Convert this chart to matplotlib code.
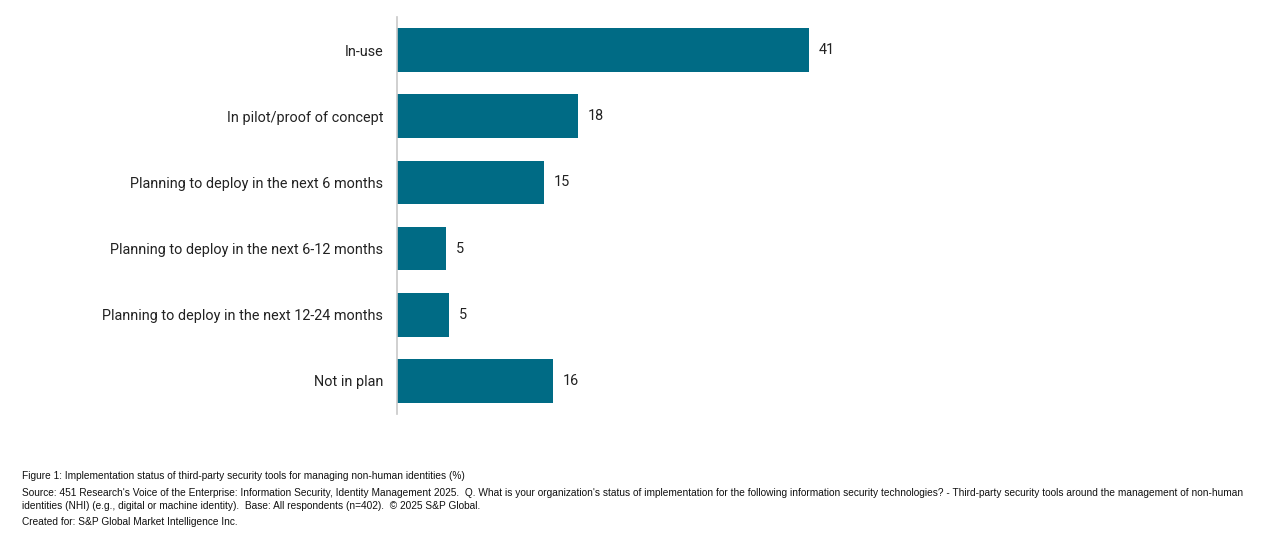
import numpy as np
import matplotlib
matplotlib.use("Agg")
import matplotlib.pyplot as plt

categories = [
    "In-use",
    "In pilot/proof of concept",
    "Planning to deploy in the next 6 months",
    "Planning to deploy in the next 6-12 months",
    "Planning to deploy in the next 12-24 months",
    "Not in plan",
]
values = [41.0, 18.0, 14.6, 4.9, 5.2, 15.5]
value_labels = ["41", "18", "15", "5", "5", "16"]

footer_title = "Figure 1: Implementation status of third-party security tools for managing non-human identities (%)"
footer_source = ("Source: 451 Research's Voice of the Enterprise: Information Security, Identity Management 2025.  "
                 "Q. What is your organization's status of implementation for the following information security "
                 "technologies? - Third-party security tools around the management of non-human\n"
                 "identities (NHI) (e.g., digital or machine identity).  Base: All respondents (n=402).  \u00a9 2025 S&P Global.")
footer_created = "Created for: S&P Global Market Intelligence Inc."

bar_color = "#006b85"
text_color = "#222222"

W, H = 1263, 534
fig = plt.figure(figsize=(W / 100, H / 100), dpi=100)

# axes placed in pixel terms: left edge at x=397, spans y=17..414
ax = fig.add_axes([397 / W, (H - 414) / H, 800 / W, 397 / H])
y = np.arange(len(categories))
ax.barh(y, values, height=0.66, color=bar_color)
ax.set_xlim(0, 800 / 10.05)
ax.set_ylim(len(categories) - 0.5, -0.5)

ax.set_yticks(y)
ax.set_yticklabels(categories, fontsize=10.4, color=text_color, family="Roboto")
ax.tick_params(axis="y", length=0, pad=10)
ax.set_xticks([])
for s in ["top", "right", "bottom"]:
    ax.spines[s].set_visible(False)
ax.spines["left"].set_color("#c8c8c8")
ax.spines["left"].set_linewidth(1.2)

for yi, v, lab in zip(y, values, value_labels):
    ax.annotate(lab, (v, yi), xytext=(7, 0), textcoords="offset points",
                va="center", ha="left", fontsize=10.4, color=text_color, family="Roboto")

foot = dict(family="Liberation Sans", fontsize=7.3, color="#111111", ha="left", va="center")
fig.text(22 / W, 1 - 476 / H, footer_title, **foot)
fig.text(22 / W, 1 - 499.5 / H, footer_source, linespacing=1.3, **foot)
fig.text(22 / W, 1 - 522 / H, footer_created, **foot)

fig.savefig("out.png", dpi=100)
